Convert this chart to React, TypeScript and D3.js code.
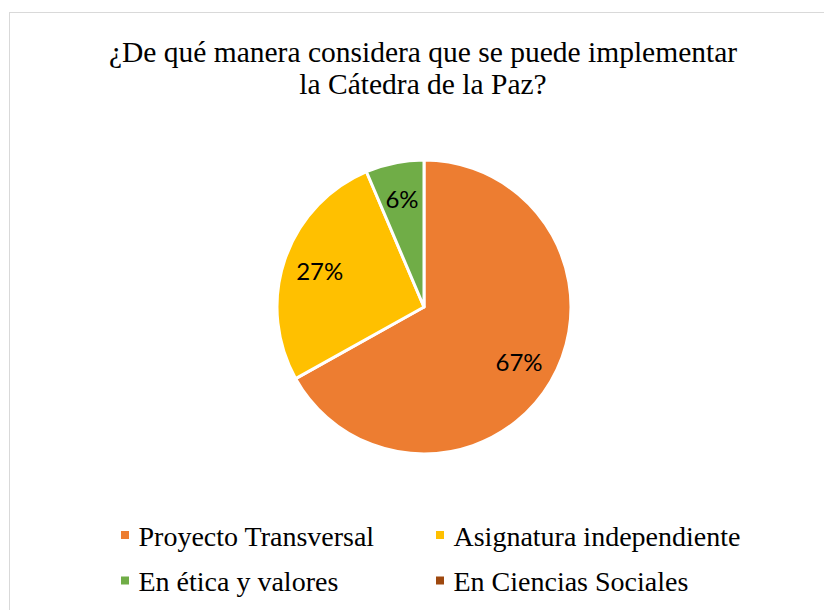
import React from "react";
import * as d3 from "d3";

const categories = ["Proyecto Transversal", "Asignatura independiente", "En ética y valores", "En Ciencias Sociales"];
const values = [66.9, 26.7, 6.4, 0];
const colors = ["#ED7D31", "#FFC000", "#70AD47", "#9E480E"];
const titleLines = ["¿De qué manera considera que se puede implementar", "la Cátedra de la Paz?"];

const W = 824;
const H = 610;
const cx = 424;
const cy = 307;
const R = 147;

export default function App() {
  const total = d3.sum(values);
  const pie = d3.pie<number>().sort(null).value((d) => d);
  const arcs = pie(values);
  const arc = d3.arc<d3.PieArcDatum<number>>().innerRadius(0).outerRadius(R);
  const labelArc = d3.arc<d3.PieArcDatum<number>>().innerRadius(R * 0.75).outerRadius(R * 0.75);
  const fmt = (v: number) => `${Math.round((v / total) * 100)}%`;

  const legendPos = [
    { x: 121, y: 545.5 },
    { x: 436, y: 545.5 },
    { x: 121, y: 591 },
    { x: 436, y: 591 },
  ];

  return (
    <svg width={W} height={H} style={{ position: "absolute", left: 0, top: 0, background: "#fff" }}>
      <rect x={9.5} y={12.5} width={W + 20} height={H + 20} fill="#fff" stroke="#D9D9D9" strokeWidth={1} />
      <g fontFamily="'Liberation Serif', 'Times New Roman', serif" fontSize={29.5} fill="#000" textAnchor="middle">
        {titleLines.map((t, i) => (
          <text key={i} x={423} y={62 + i * 32}>{t}</text>
        ))}
      </g>
      <g transform={`translate(${cx},${cy})`}>
        {arcs.map((a, i) =>
          a.value > 0 ? (
            <path key={i} d={arc(a) || ""} fill={colors[i]} stroke="#fff" strokeWidth={3} strokeLinejoin="round" />
          ) : null
        )}
        {arcs.map((a, i) => {
          if (a.value <= 0) return null;
          const [lx, ly] = labelArc.centroid(a);
          return (
            <text key={"l" + i} x={lx} y={ly} dy="0.36em" textAnchor="middle" fontFamily="Lato, 'Open Sans', sans-serif" fontSize={24} fill="#000">
              {fmt(a.value)}
            </text>
          );
        })}
      </g>
      <g fontFamily="'Liberation Serif', 'Times New Roman', serif" fontSize={28} fill="#000">
        {categories.map((c, i) => (
          <g key={c}>
            <rect x={legendPos[i].x} y={legendPos[i].y - 14.5} width={8} height={8} fill={colors[i]} />
            <text x={legendPos[i].x + 17.5} y={legendPos[i].y}>{c}</text>
          </g>
        ))}
      </g>
    </svg>
  );
}
